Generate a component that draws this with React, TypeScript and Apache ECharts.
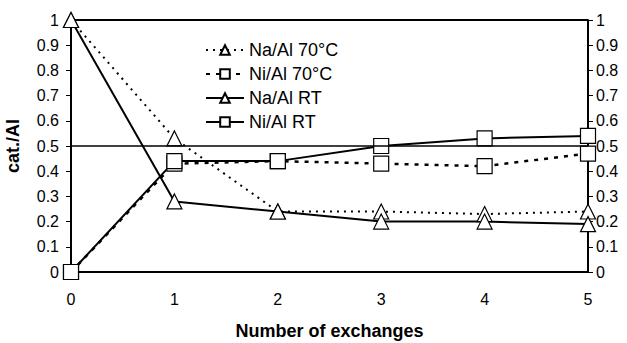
import React, { useEffect, useRef } from "react";
import * as echarts from "echarts";

const exchanges = ["0", "1", "2", "3", "4", "5"];
const naAl70 = [1, 0.53, 0.24, 0.24, 0.23, 0.24];
const niAl70 = [0, 0.43, 0.44, 0.43, 0.42, 0.47];
const naAlRT = [1, 0.28, 0.24, 0.2, 0.2, 0.19];
const niAlRT = [0, 0.44, 0.44, 0.5, 0.53, 0.54];
const referenceLevel = 0.5;

const FONT = "'Liberation Sans', Arial, sans-serif";

export default function App() {
  const ref = useRef<HTMLDivElement>(null);

  useEffect(() => {
    if (!ref.current) return;
    const chart = echarts.init(ref.current, null, { renderer: "svg" });

    const valueAxis = (position: "left" | "right") => ({
      type: "value",
      position,
      min: 0,
      max: 1,
      interval: 0.1,
      axisLine: { show: true, lineStyle: { color: "#000", width: 2 } },
      axisTick: { show: true, inside: false, length: 5, lineStyle: { color: "#000" } },
      splitLine: { show: false },
      axisLabel: {
        color: "#000",
        fontFamily: FONT,
        fontSize: 16,
        margin: position === "left" ? 12 : 8,
        formatter: (v: number) => String(Math.round(v * 10) / 10),
      },
      ...(position === "left"
        ? {
            name: "cat./Al",
            nameLocation: "middle",
            nameGap: 49,
            nameRotate: 90,
            nameTextStyle: { color: "#000", fontFamily: FONT, fontSize: 18, fontWeight: "bold" },
          }
        : {}),
    });

    const seriesBase = (name: string, data: number[], symbol: string, type: any, width: number) => ({
      name,
      type: "line",
      data,
      symbol,
      symbolSize: 15,
      itemStyle: { color: "#fff", borderColor: "#000", borderWidth: 1.2 },
      lineStyle: { color: "#000", width, type },
      emphasis: { disabled: true },
    });

    chart.setOption({
      animation: false,
      backgroundColor: "#fff",
      grid: {
        left: 71,
        right: 39,
        top: 20,
        bottom: 71,
        containLabel: false,
        outerBoundsMode: "none",
      },
      legend: {
        left: 200,
        top: 36,
        orient: "vertical",
        itemWidth: 38,
        itemHeight: 12,
        itemGap: 6,
        textStyle: { color: "#000", fontFamily: FONT, fontSize: 18, lineHeight: 18 },
        data: ["Na/Al 70°C", "Ni/Al 70°C", "Na/Al RT", "Ni/Al RT"],
      },
      xAxis: {
        type: "category",
        data: exchanges,
        boundaryGap: false,
        axisLine: { show: true, lineStyle: { color: "#000", width: 2 } },
        axisTick: { show: false },
        axisLabel: { color: "#000", fontFamily: FONT, fontSize: 16, margin: 19 },
        name: "Number of exchanges",
        nameLocation: "middle",
        nameGap: 50,
        nameTextStyle: { color: "#000", fontFamily: FONT, fontSize: 18, fontWeight: "bold", lineHeight: 18 },
      },
      yAxis: [valueAxis("left"), valueAxis("right")],
      series: [
        seriesBase("Na/Al 70°C", naAl70, "triangle", [2, 5], 2),
        seriesBase("Ni/Al 70°C", niAl70, "rect", [4, 6], 2.5),
        {
          ...seriesBase("Na/Al RT", naAlRT, "triangle", "solid", 2),
          markLine: {
            silent: true,
            symbol: "none",
            label: { show: false },
            lineStyle: { color: "#000", width: 1.5, type: "solid" },
            data: [{ yAxis: referenceLevel }],
          },
        },
        seriesBase("Ni/Al RT", niAlRT, "rect", "solid", 2),
      ],
      graphic: [
        {
          type: "line",
          shape: { x1: 71, y1: 20, x2: 588, y2: 20 },
          style: { stroke: "#000", lineWidth: 2 },
        },
      ],
    });

    return () => chart.dispose();
  }, []);

  return (
    <div
      ref={ref}
      style={{ position: "absolute", left: 0, top: 0, width: 627, height: 343 }}
    />
  );
}
